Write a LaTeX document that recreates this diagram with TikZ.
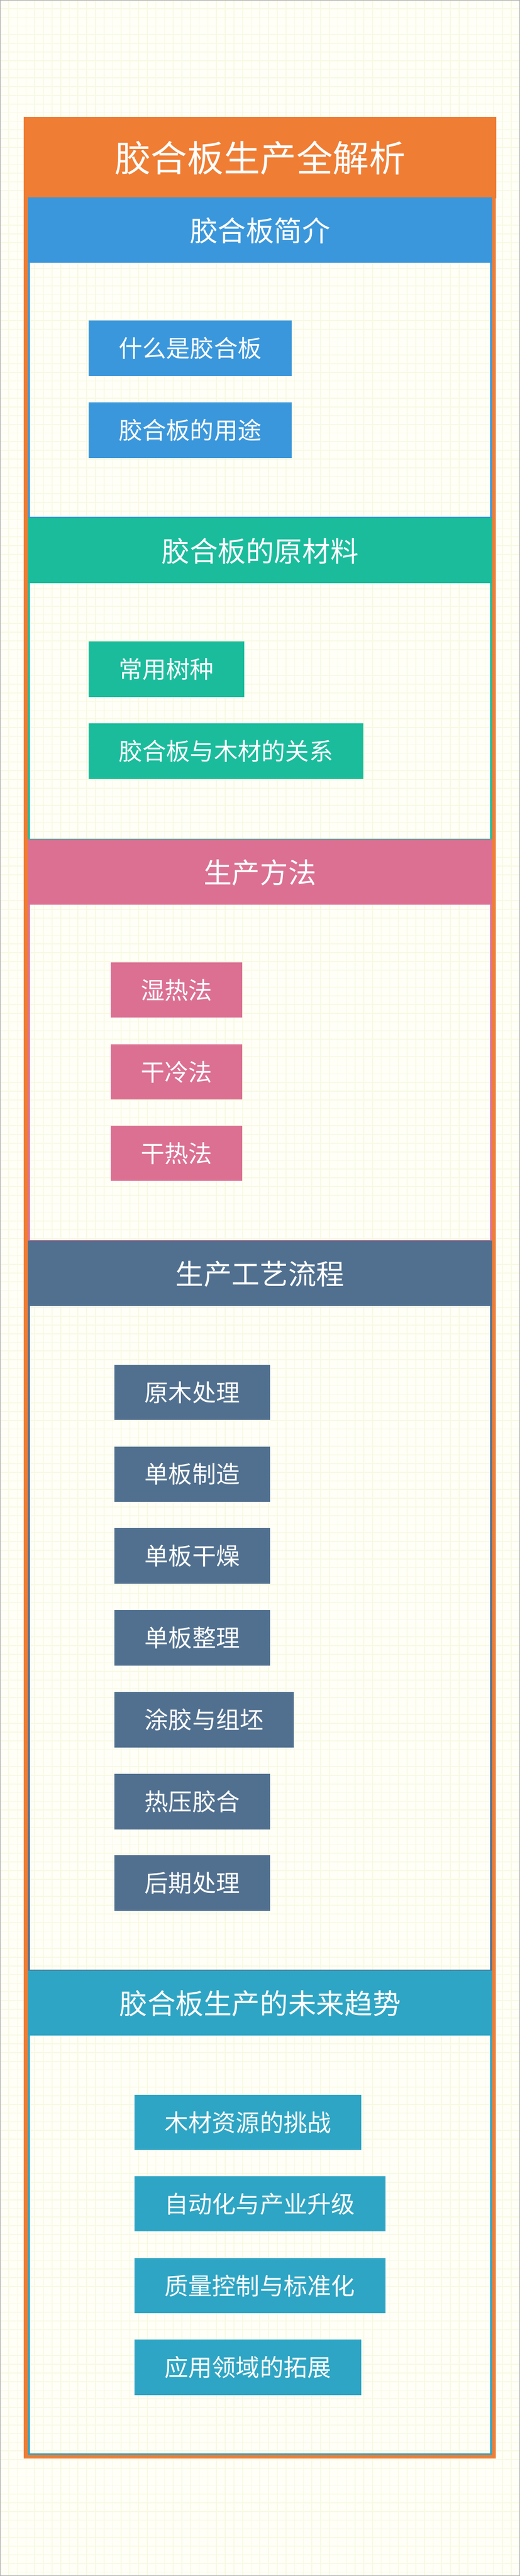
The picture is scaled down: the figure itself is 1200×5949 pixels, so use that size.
\documentclass[tikz,border=0pt]{standalone}
\usepackage{fontspec}
\newfontfamily\cjkfont{Noto Sans CJK SC}
\definecolor{paper}{HTML}{FFFFF8}
\definecolor{paperline}{HTML}{F8F9E2}
\definecolor{carrot}{HTML}{EF7D34}
\definecolor{introblue}{HTML}{3A97DB}
\definecolor{woodteal}{HTML}{1ABC9C}
\definecolor{methodpink}{HTML}{DB7093}
\definecolor{flowslate}{HTML}{51708F}
\definecolor{trendcyan}{HTML}{2EA5C4}

\begin{document}
\begin{tikzpicture}
    [x=0.5pt,y=-0.5pt,
    titleband/.style={rectangle,fill=carrot,text=white,anchor=north west,inner sep=0pt,
        minimum width=545pt,minimum height=94pt,font=\cjkfont\fontsize{42}{50}\selectfont},
    sechead/.style={rectangle,fill=#1,text=white,anchor=north west,inner sep=0pt,
        minimum width=536pt,minimum height=74pt,font=\cjkfont\fontsize{32.5}{39}\selectfont},
    secframe/.style={draw=#1,line width=2.5pt},
    secitem/.style={rectangle,fill=#1,text=white,anchor=north west,inner xsep=34.75pt,inner ysep=0pt,
        minimum height=64pt,font=\cjkfont\fontsize{27.5}{33}\selectfont}]
    \useasboundingbox (0,0) rectangle (1200,5949);
    \fill[paper] (0,0) rectangle (1200,5949);
    \draw[paperline,line width=1pt,step=10pt] (0,0) grid (1200,5949);
    \draw[gray!70,line width=0.5pt] (0.5,0.5) rectangle (1199.5,5948.5);

    % title
    \node (title) at (55,270) [titleband] {胶合板生产全解析};

    % 1 intro
    \draw[secframe=introblue] (66,458) rectangle (1134,1196);
    \node (intro) at (64,458) [sechead=introblue] {胶合板简介};
    \node (what) at (204,740) [secitem=introblue] {什么是胶合板};
    \node (use) at (204,929) [secitem=introblue] {胶合板的用途};

    % 2 raw material
    \draw[secframe=woodteal] (66,1198) rectangle (1134,1939);
    \node (material) at (64,1198) [sechead=woodteal] {胶合板的原材料};
    \node (species) at (204,1481) [secitem=woodteal] {常用树种};
    \node (relation) at (204,1670) [secitem=woodteal] {胶合板与木材的关系};

    % 3 methods
    \draw[secframe=methodpink] (66,1941) rectangle (1134,2866);
    \node (method) at (64,1941) [sechead=methodpink] {生产方法};
    \node (wethot) at (255,2222) [secitem=methodpink] {湿热法};
    \node (drycold) at (255,2411) [secitem=methodpink] {干冷法};
    \node (dryhot) at (255,2599) [secitem=methodpink] {干热法};

    % 4 process
    \draw[secframe=flowslate] (66,2868) rectangle (1134,4551);
    \node (process) at (64,2868) [sechead=flowslate] {生产工艺流程};
    \node (log) at (264,3151) [secitem=flowslate] {原木处理};
    \node (veneer) at (264,3340) [secitem=flowslate] {单板制造};
    \node (drying) at (264,3529) [secitem=flowslate] {单板干燥};
    \node (sorting) at (264,3718) [secitem=flowslate] {单板整理};
    \node (gluing) at (264,3907) [secitem=flowslate] {涂胶与组坯};
    \node (press) at (264,4096) [secitem=flowslate] {热压胶合};
    \node (finish) at (264,4284) [secitem=flowslate] {后期处理};

    % 5 trends
    \draw[secframe=trendcyan] (66,4553) rectangle (1134,5668);
    \node (trend) at (64,4553) [sechead=trendcyan] {胶合板生产的未来趋势};
    \node (resource) at (310,4837) [secitem=trendcyan] {木材资源的挑战};
    \node (auto) at (310,5025) [secitem=trendcyan] {自动化与产业升级};
    \node (quality) at (310,5214) [secitem=trendcyan] {质量控制与标准化};
    \node (field) at (310,5403) [secitem=trendcyan] {应用领域的拓展};

    % outer frame
    \draw[carrot,line width=4.5pt] (59.5,274.5) rectangle (1140.5,5673.5);
\end{tikzpicture}
\end{document}
